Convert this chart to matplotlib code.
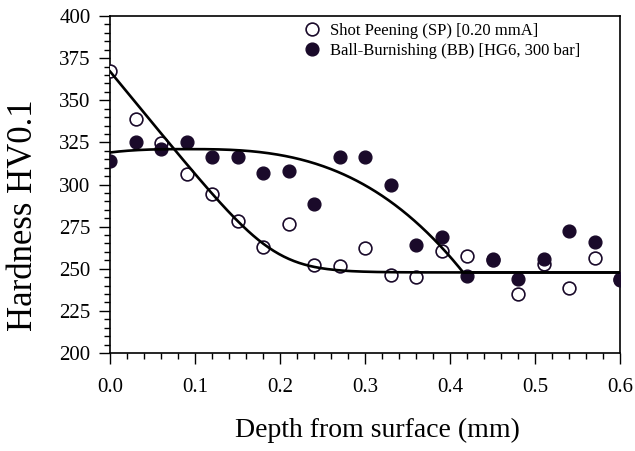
import numpy as np
import matplotlib
matplotlib.use("Agg")
import matplotlib.pyplot as plt
from matplotlib.ticker import MultipleLocator, FormatStrFormatter

plt.rcParams['font.family'] = ['Liberation Serif', 'DejaVu Serif']

# ---- data ----
depth = [0.00, 0.03, 0.06, 0.09, 0.12, 0.15, 0.18, 0.21, 0.24, 0.27, 0.30,
         0.33, 0.36, 0.39, 0.42, 0.45, 0.48, 0.51, 0.54, 0.57, 0.60]
sp_hardness = [367.4, 338.9, 324.7, 306.1, 294.2, 278.3, 263.0, 276.5, 252.2, 251.7, 262.6,
               246.5, 245.3, 260.6, 257.7, 255.0, 234.8, 252.6, 238.4, 256.2, 244.0]
bb_hardness = [313.9, 325.0, 320.9, 325.0, 316.5, 316.5, 306.6, 308.2, 288.4, 316.5, 316.5,
               299.7, 264.1, 269.0, 245.7, 255.6, 243.9, 255.6, 272.4, 265.7, 243.3]

sp_label = "Shot Peening (SP) [0.20 mmA]"
bb_label = "Ball-Burnishing (BB) [HG6, 300 bar]"
x_ticks = [0.0, 0.1, 0.2, 0.3, 0.4, 0.5, 0.6]
y_ticks = [200, 225, 250, 275, 300, 325, 350, 375, 400]

# fitted trend models (parameters)
plateau = 247.8
sp_slope, sp_xk, sp_w = 615.0, 0.194, 0.029      # smooth linear-to-plateau (softplus)
bb_peak, bb_xp, bb_k, bb_n = 321.0, 0.09, 1695.0, 2.8  # power-law drop

xs = np.linspace(0, 0.6, 400)
sp_fit = plateau + sp_slope * sp_w * np.log1p(np.exp((sp_xk - xs) / sp_w))
bb_fit = np.maximum(bb_peak - bb_k * np.abs(xs - bb_xp) ** bb_n, plateau)

# ---- figure ----
fig = plt.figure(figsize=(6.35, 4.51), dpi=100)
ax = fig.add_axes([110/635, 1 - 353/451, 510/635, 337/451])

mcol = '#1a0a2a'
ax.plot(depth, sp_hardness, 'o', ms=9.2, mfc='white', mec=mcol, mew=1.2,
        zorder=3, label=sp_label, linestyle='none')
ax.plot(depth, bb_hardness, 'o', ms=9.2, mfc=mcol, mec=mcol, mew=1.0,
        zorder=4, label=bb_label, linestyle='none')
ax.plot(xs, sp_fit, color='black', lw=1.9, zorder=5)
ax.plot(xs, bb_fit, color='black', lw=1.9, zorder=5)

ax.set_xlim(0, 0.6)
ax.set_ylim(200, 400)
ax.set_xticks(x_ticks)
ax.set_yticks(y_ticks)
ax.xaxis.set_major_formatter(FormatStrFormatter('%.1f'))
ax.xaxis.set_minor_locator(MultipleLocator(0.02))
ax.yaxis.set_minor_locator(MultipleLocator(5))
ax.tick_params(which='both', direction='out', top=False, right=False, width=1.0)
ax.tick_params(which='major', length=8, labelsize=15)
ax.tick_params(axis='x', which='major', pad=10)
ax.tick_params(axis='y', which='major', pad=6)
ax.tick_params(which='minor', length=4)
for s in ax.spines.values():
    s.set_linewidth(1.2)

ax.set_xlabel("Depth from surface (mm)", fontsize=20, va='center')
ax.xaxis.set_label_coords((377 - 110) / 510, -(430 - 353) / 337)
ax.set_ylabel("Hardness HV0.1", fontsize=25, va='center')
ax.yaxis.set_label_coords((24 - 110) / 510, 1 - (215 - 16) / 337)

leg = ax.legend(loc='upper left', bbox_to_anchor=(304/635, 1 - 23/451),
                bbox_transform=fig.transFigure, frameon=False, fontsize=12,
                handlelength=1.0, handletextpad=0.55, labelspacing=0.25,
                borderpad=0, borderaxespad=0, numpoints=1)

fig.savefig("out.png", dpi=100)
